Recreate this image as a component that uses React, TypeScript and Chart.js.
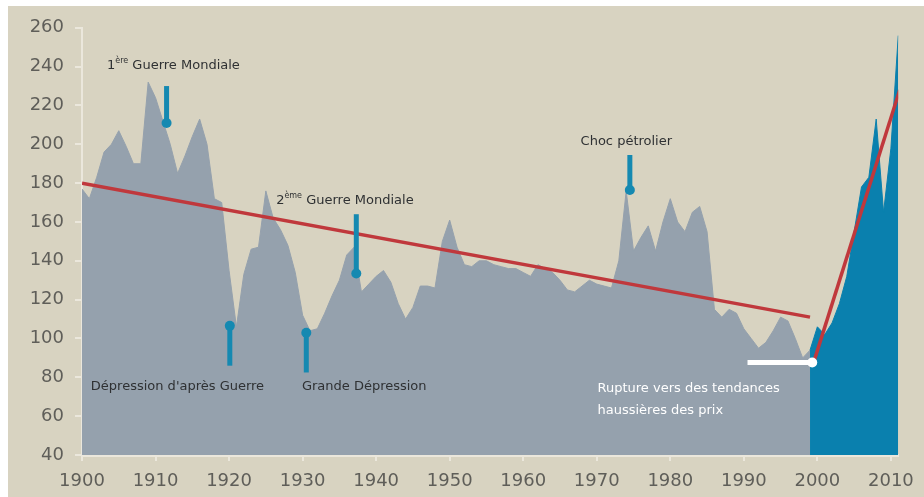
import { useEffect, useRef } from "react";
import { Chart, registerables } from "chart.js";

Chart.register(...registerables);

// ---------- data ----------
const histStart = 1900;
const histValues = [
  177, 172, 183, 196, 200, 207, 199, 190, 190, 232,
  224, 212, 200, 185, 194, 204, 213, 200, 172, 170,
  135, 106, 133, 146, 147, 176, 162, 156, 148, 134,
  112, 104, 105, 113, 122, 130, 143, 147, 124, 128,
  132, 135, 129, 118, 110, 116, 127, 127, 126, 150,
  161, 147, 138, 137, 140, 140, 138, 137, 136, 136,
  134, 132, 138, 136, 134, 130, 125, 124, 127, 130,
  128, 127, 126, 140, 176, 145, 152, 158, 145, 160,
  172, 160, 155, 165, 168, 155, 115, 111, 115, 113,
  105, 100, 95, 98, 104, 111, 109, 100, 90, 94,
];
const histYears = histValues.map((_, i) => histStart + i);

const recentYears = [1999, 2000, 2001, 2002, 2003, 2004, 2005, 2006, 2007, 2008, 2009, 2010, 2011];
const recentValues = [94, 106, 102, 108, 118, 132, 155, 178, 183, 213, 165, 198, 256];

const trendDownYears = [1900, 1999];
const trendDownValues = [180, 111];
const trendUpYears = [1999.6, 2011.2];
const trendUpValues = [89, 228];

const xTickYears = [1900, 1910, 1920, 1930, 1940, 1950, 1960, 1970, 1980, 1990, 2000, 2010];
const yMin = 40;
const yMax = 260;
const yStep = 20;

// annotation content (anchored in data coordinates)
const markerYears = [1911.5, 1920.1, 1930.5, 1937.3, 1974.5];
const markerTails = [230, 86, 82.5, 164, 194.5];
const markerHeads = [211, 106.5, 103, 133.5, 176.5];

type Part = { t: string; sup?: boolean };
const labelTexts: Part[][] = [
  [{ t: "1" }, { t: "ère", sup: true }, { t: " Guerre Mondiale" }],
  [{ t: "2" }, { t: "ème", sup: true }, { t: " Guerre Mondiale" }],
  [{ t: "Choc pétrolier" }],
  [{ t: "Dépression d'après Guerre" }],
  [{ t: "Grande Dépression" }],
  [{ t: "Rupture vers des tendances" }],
  [{ t: "haussières des prix" }],
];
const labelYears = [1903.4, 1926.4, 1967.8, 1901.2, 1929.9, 1970.1, 1970.1];
const labelValues = [240.5, 171, 201.5, 75, 75, 74.3, 63];
const labelWhite = [false, false, false, false, false, true, true];

const ruptureArrowFrom = 1990.5;
const ruptureArrowTo = 1999.3;
const ruptureArrowValue = 87.6;

// ---------- styles ----------
const BG = "#d8d3c1";
const GREY_AREA = "#95a1ad";
const BLUE_AREA = "#0a80ae";
const RED = "#c0383c";
const MARKER = "#1589b1";
const AXIS_LIGHT = "#ebe7dc";
const TICK_TEXT = "#5f5e59";
const FONT = '"DejaVu Sans", sans-serif';

const toPoints = (xs: number[], ys: number[]) => xs.map((x, i) => ({ x, y: ys[i] }));

const bgPlugin = {
  id: "bg",
  beforeDraw(chart: any) {
    const { ctx, width, height } = chart;
    ctx.save();
    ctx.fillStyle = BG;
    ctx.fillRect(0, 0, width, height);
    ctx.restore();
  },
};

const annotPlugin = {
  id: "annot",
  afterDatasetsDraw(chart: any) {
    const { ctx } = chart;
    const xs = chart.scales.x;
    const ys = chart.scales.y;
    ctx.save();
    // blue markers
    ctx.strokeStyle = MARKER;
    ctx.fillStyle = MARKER;
    ctx.lineWidth = 5;
    ctx.lineCap = "butt";
    markerYears.forEach((yr, i) => {
      const px = xs.getPixelForValue(yr);
      const pt = ys.getPixelForValue(markerTails[i]);
      const ph = ys.getPixelForValue(markerHeads[i]);
      ctx.beginPath();
      ctx.moveTo(px, pt);
      ctx.lineTo(px, ph);
      ctx.stroke();
      ctx.beginPath();
      ctx.arc(px, ph, 5, 0, Math.PI * 2);
      ctx.fill();
    });
    // white arrow
    const ax0 = xs.getPixelForValue(ruptureArrowFrom);
    const ax1 = xs.getPixelForValue(ruptureArrowTo);
    const ay = ys.getPixelForValue(ruptureArrowValue);
    ctx.strokeStyle = "#ffffff";
    ctx.fillStyle = "#ffffff";
    ctx.lineWidth = 5;
    ctx.beginPath();
    ctx.moveTo(ax0, ay);
    ctx.lineTo(ax1, ay);
    ctx.stroke();
    ctx.beginPath();
    ctx.arc(ax1, ay, 5, 0, Math.PI * 2);
    ctx.fill();
    // labels
    ctx.textBaseline = "middle";
    ctx.textAlign = "left";
    labelTexts.forEach((parts, i) => {
      let px = xs.getPixelForValue(labelYears[i]);
      const py = ys.getPixelForValue(labelValues[i]);
      ctx.fillStyle = labelWhite[i] ? "#ffffff" : "#2f3133";
      parts.forEach((p) => {
        if (p.sup) {
          ctx.font = `8px ${FONT}`;
          ctx.fillText(p.t, px, py - 5);
        } else {
          ctx.font = `13px ${FONT}`;
          ctx.fillText(p.t, px, py);
        }
        px += ctx.measureText(p.t).width;
      });
    });
    ctx.restore();
  },
};

export default function App() {
  const ref = useRef<HTMLCanvasElement | null>(null);

  useEffect(() => {
    if (!ref.current) return;
    const chart = new Chart(ref.current, {
      type: "line",
      data: {
        datasets: [
          {
            label: "Tendance baissière",
            data: toPoints(trendDownYears, trendDownValues),
            borderColor: RED,
            borderWidth: 3.5,
            pointRadius: 0,
            fill: false,
            order: 0,
          },
          {
            label: "Tendance haussière",
            data: toPoints(trendUpYears, trendUpValues),
            borderColor: RED,
            borderWidth: 3.5,
            pointRadius: 0,
            fill: false,
            order: 0,
          },
          {
            label: "Indice 1900-1999",
            data: toPoints(histYears, histValues),
            borderColor: GREY_AREA,
            backgroundColor: GREY_AREA,
            borderWidth: 1,
            pointRadius: 0,
            fill: "start",
            tension: 0,
            order: 2,
          },
          {
            label: "Indice 1999-2011",
            data: toPoints(recentYears, recentValues),
            borderColor: BLUE_AREA,
            backgroundColor: BLUE_AREA,
            borderWidth: 1,
            pointRadius: 0,
            fill: "start",
            tension: 0,
            order: 1,
          },
        ],
      },
      options: {
        animation: false,
        responsive: false,
        maintainAspectRatio: false,
        layout: { padding: { top: 19, right: 21, bottom: 0, left: 0 } },
        plugins: { legend: { display: false }, tooltip: { enabled: false } },
        scales: {
          x: {
            type: "linear",
            min: histStart,
            max: 2011,
            afterFit: (s: any) => {
              s.height = 42;
            },
            afterBuildTicks: (s: any) => {
              s.ticks = xTickYears.map((v) => ({ value: v }));
            },
            ticks: {
              color: TICK_TEXT,
              font: { family: FONT, size: 18 },
              padding: 10,
              maxRotation: 0,
              autoSkip: false,
              callback: (v: any) => String(v),
            },
            grid: {
              drawOnChartArea: false,
              drawTicks: true,
              tickLength: 6,
              color: AXIS_LIGHT,
              lineWidth: 2,
            },
            border: { display: true, color: AXIS_LIGHT, width: 3 },
          },
          y: {
            type: "linear",
            min: yMin,
            max: yMax,
            afterFit: (s: any) => {
              s.width = 74;
            },
            ticks: {
              stepSize: yStep,
              color: TICK_TEXT,
              font: { family: FONT, size: 18 },
              padding: 11,
            },
            grid: {
              drawOnChartArea: false,
              drawTicks: true,
              tickLength: 7,
              color: AXIS_LIGHT,
              lineWidth: 2,
            },
            border: { display: true, color: AXIS_LIGHT, width: 2 },
          },
        },
      },
      plugins: [bgPlugin, annotPlugin],
    } as any);
    return () => chart.destroy();
  }, []);

  return (
    <div
      style={{
        position: "fixed",
        left: 0,
        top: 0,
        width: 924,
        height: 497,
        background: "#ffffff",
        overflow: "hidden",
      }}
    >
      <canvas
        ref={ref}
        width={916}
        height={491}
        style={{ position: "absolute", left: 8, top: 6, width: 916, height: 491 }}
      />
    </div>
  );
}
